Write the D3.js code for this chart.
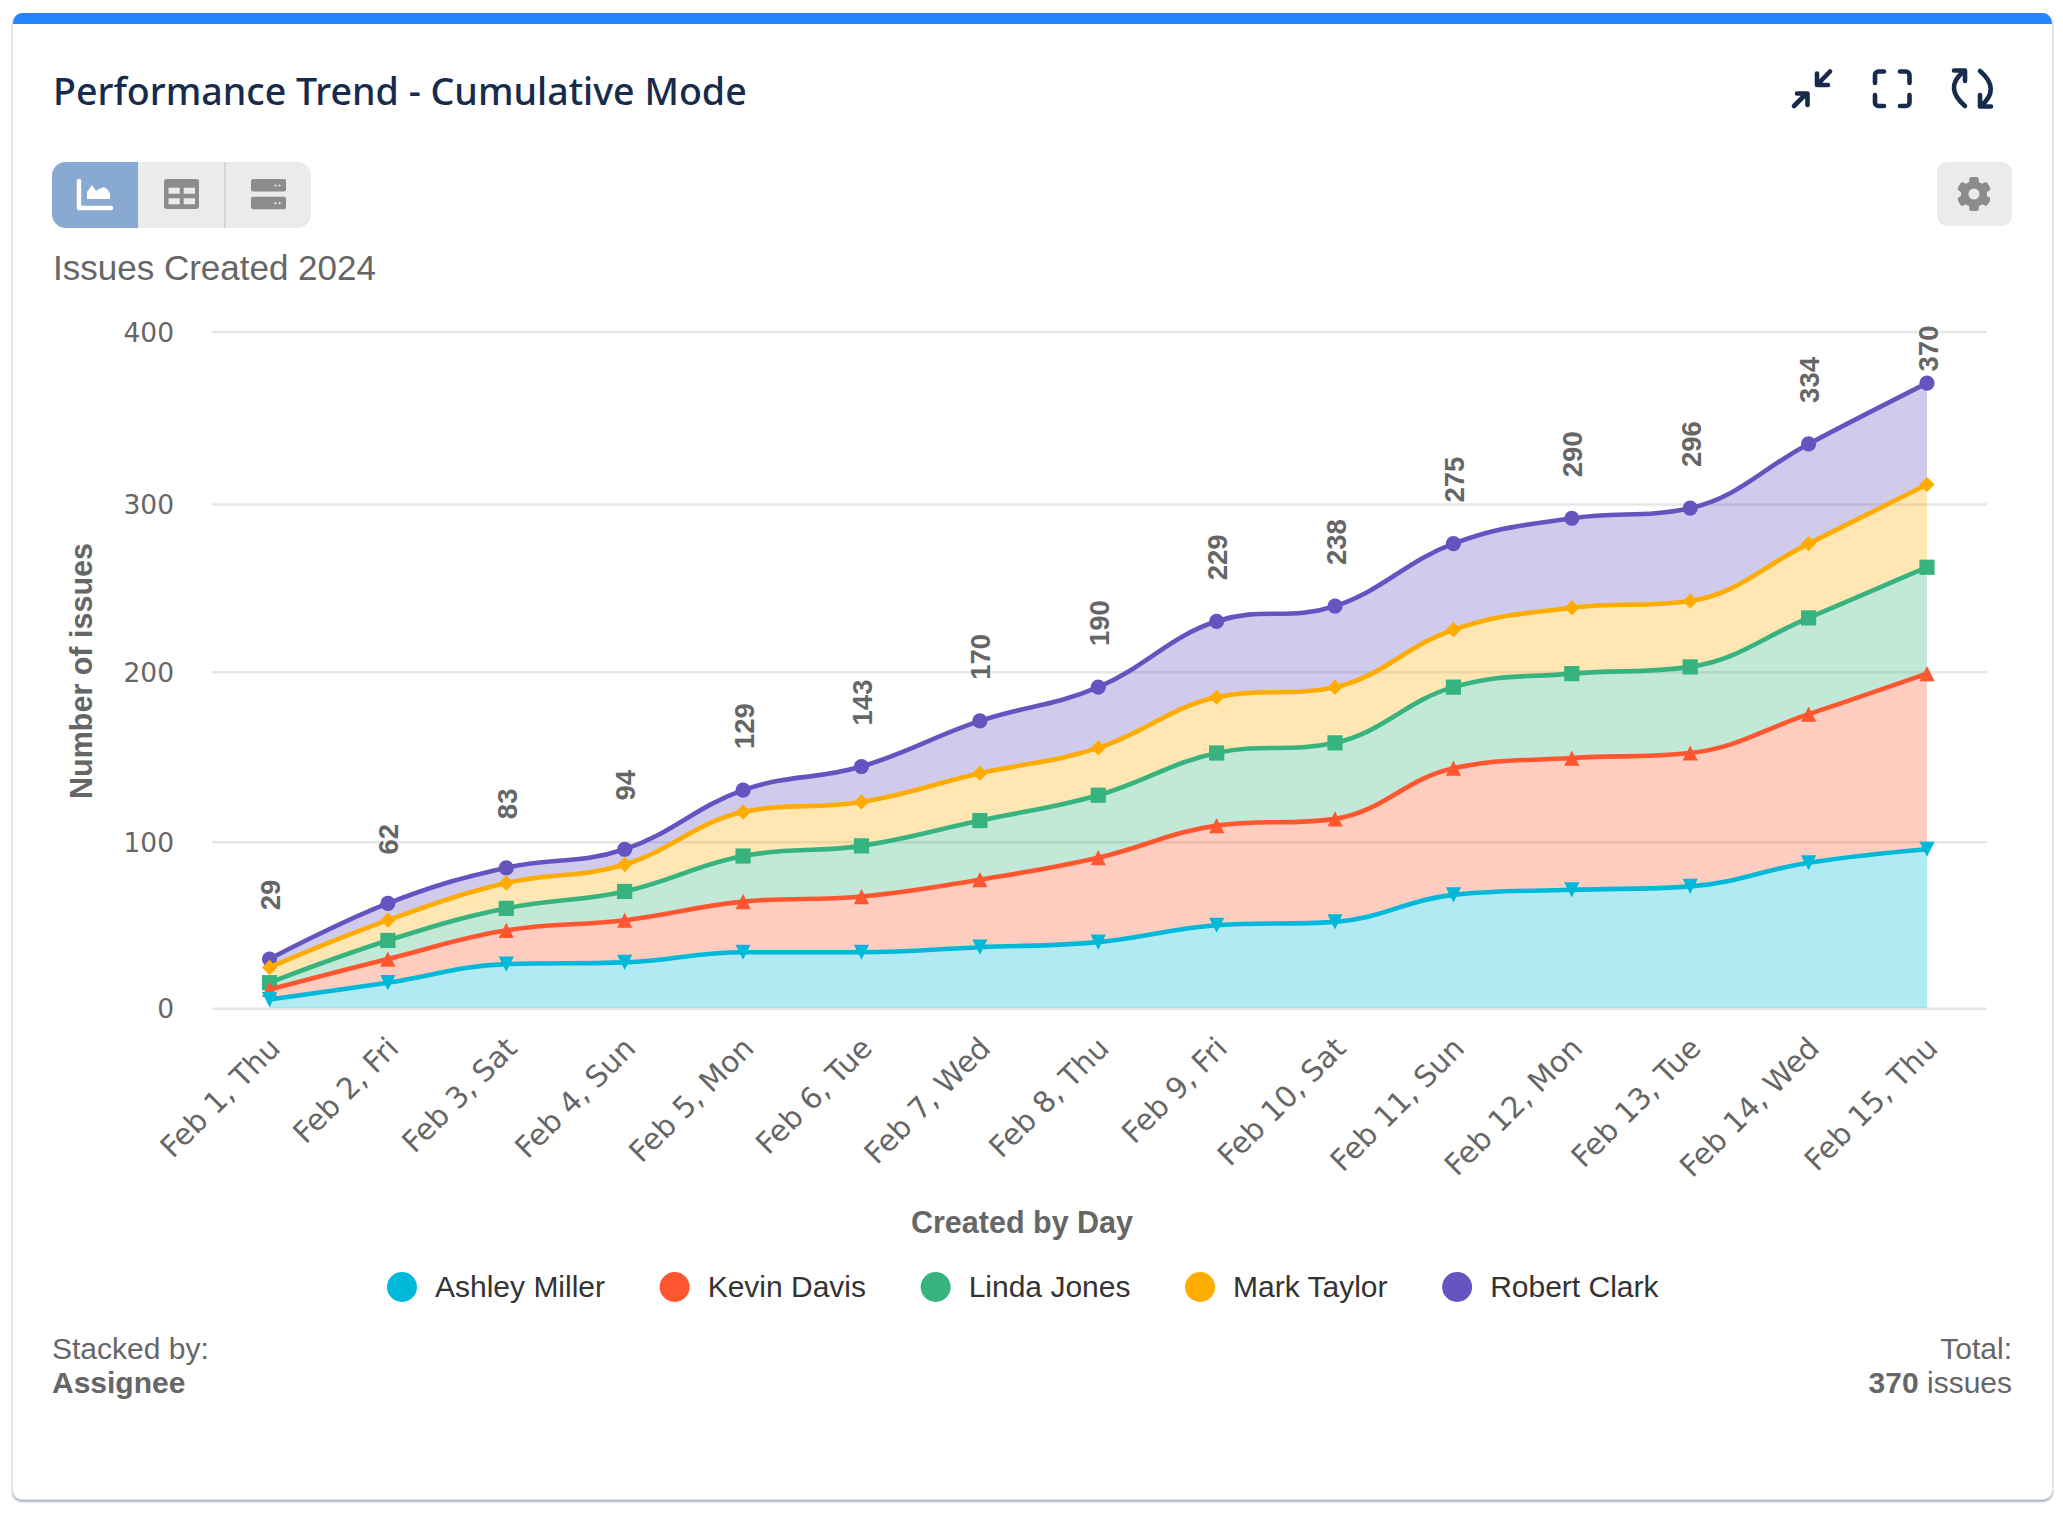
<!DOCTYPE html>
<html>
<head>
<meta charset="utf-8">
<script src="https://cdn.jsdelivr.net/npm/d3@7"></script>
<style>
  html, body { margin: 0; background: #fff; }
  #card { position: absolute; left: 12px; top: 13px; width: 2039px; height: 1486px; background: #fff;
    border: 1px solid #dfe1e6; border-top: 0; border-radius: 10px; overflow: hidden; box-sizing: content-box;
    box-shadow: 0 2px 2px rgba(100,115,150,.55); }
  #bar { height: 11px; background: #2684ff; }
  svg { position: absolute; left: 0; top: 0; font-family: "Liberation Sans", Arial, sans-serif; }
</style>
</head>
<body>
<div id="card"><div id="bar"></div></div>
<div id="container"></div>
<script>
/* DATA */
const days = ["Feb 1, Thu", "Feb 2, Fri", "Feb 3, Sat", "Feb 4, Sun", "Feb 5, Mon", "Feb 6, Tue", "Feb 7, Wed", "Feb 8, Thu",
  "Feb 9, Fri", "Feb 10, Sat", "Feb 11, Sun", "Feb 12, Mon", "Feb 13, Tue", "Feb 14, Wed", "Feb 15, Thu"];
const assignees = ["Ashley Miller", "Kevin Davis", "Linda Jones", "Mark Taylor", "Robert Clark"];
const ashleyMiller = [5, 15, 26, 27, 33, 33, 36, 39, 49, 51, 67, 70, 72, 86, 94];
const kevinDavis = [6, 14, 20, 25, 30, 33, 40, 50, 59, 61, 75, 78, 79, 88, 104];
const lindaJones = [4, 11, 13, 17, 27, 30, 35, 37, 43, 45, 48, 50, 51, 57, 63];
const markTaylor = [9, 12, 15, 16, 26, 26, 28, 28, 33, 33, 34, 39, 39, 44, 49];
const robertClark = [5, 10, 9, 9, 13, 21, 31, 36, 45, 48, 51, 53, 55, 59, 60];
const totals = [29, 62, 83, 94, 129, 143, 170, 190, 229, 238, 275, 290, 296, 334, 370];
const yTicks = [0, 100, 200, 300, 400];
const colors = ["#00b8d9", "#ff5630", "#36b37e", "#ffab00", "#6554c0"];
const markers = ["triangle-down", "triangle", "square", "diamond", "circle"];

/* CONSTANTS */
const width = 2063, height = 1514;
const plot = { left: 212, right: 1987, top: 332.5, bottom: 1008, firstX: 269.5, lastX: 1927 };
// gridlines in the reference are not evenly spaced, so the axis gets its own pixel rows
const gridRows = [1008.3, 841.7, 671.7, 504, 331.5];
const textColor = "#666666", navy = "#172b4d", iconGray = "#8c8c8c", btnGray = "#ebebeb";

const rows = days.map((day, i) => ({
  day,
  "Ashley Miller": ashleyMiller[i],
  "Kevin Davis": kevinDavis[i],
  "Linda Jones": lindaJones[i],
  "Mark Taylor": markTaylor[i],
  "Robert Clark": robertClark[i]
}));
const stacked = d3.stack().keys(assignees)(rows);

// spline with the same control points as the original chart (smoothing 1.5)
function SplineCurve(context) { this._context = context; }
SplineCurve.prototype = {
  areaStart() { this._line = 0; },
  areaEnd() { this._line = NaN; },
  lineStart() { this._pts = []; },
  point(x, y) { this._pts.push([+x, +y]); },
  lineEnd() {
    const p = this._pts, c = this._context;
    const conts = p.map((pt, i) => {
      const prev = p[i - 1], next = p[i + 1];
      if (!prev || !next) return { lx: pt[0], ly: pt[1], rx: pt[0], ry: pt[1] };
      const lx = (1.5 * pt[0] + prev[0]) / 2.5, rx = (1.5 * pt[0] + next[0]) / 2.5;
      let ly = (1.5 * pt[1] + prev[1]) / 2.5, ry = (1.5 * pt[1] + next[1]) / 2.5;
      const corr = ((ry - ly) * (rx - pt[0])) / (rx - lx) + pt[1] - ry;
      ly += corr; ry += corr;
      if (ly > prev[1] && ly > pt[1]) { ly = Math.max(prev[1], pt[1]); ry = 2 * pt[1] - ly; }
      else if (ly < prev[1] && ly < pt[1]) { ly = Math.min(prev[1], pt[1]); ry = 2 * pt[1] - ly; }
      if (ry > next[1] && ry > pt[1]) { ry = Math.max(next[1], pt[1]); ly = 2 * pt[1] - ry; }
      else if (ry < next[1] && ry < pt[1]) { ry = Math.min(next[1], pt[1]); ly = 2 * pt[1] - ry; }
      return { lx, ly, rx, ry };
    });
    p.forEach((pt, i) => {
      if (i === 0) { this._line ? c.lineTo(pt[0], pt[1]) : c.moveTo(pt[0], pt[1]); }
      else c.bezierCurveTo(conts[i - 1].rx, conts[i - 1].ry, conts[i].lx, conts[i].ly, pt[0], pt[1]);
    });
    if (this._line) c.closePath();
    this._line = 1 - this._line;
  }
};
const spline = context => new SplineCurve(context);

// marker shapes, all fit in a box of side 2r
function markerPath(type, r) {
  if (type === "circle") return d3.arc()({ innerRadius: 0, outerRadius: r, startAngle: 0, endAngle: 2 * Math.PI });
  if (type === "square") return `M${-r},${-r}H${r}V${r}H${-r}Z`;
  if (type === "diamond") return `M0,${-r}L${r},0L0,${r}L${-r},0Z`;
  if (type === "triangle") return `M0,${-r}L${r},${r}H${-r}Z`;
  return `M${-r},${-r}H${r}L0,${r}Z`;
}

/* SCALES AND AXES */
const xScale = d3.scalePoint().domain(days).range([plot.firstX, plot.lastX]);
const yScale = d3.scaleLinear().domain([0, 400]).range([plot.bottom, plot.top]);
const gridScale = d3.scaleLinear().domain(yTicks).range(gridRows);

const svg = d3.select("#container").append("svg").attr("width", width).attr("height", height);

const yAxisGroup = svg.append("g")
  .attr("transform", `translate(${plot.left},0)`)
  .call(d3.axisLeft(gridScale).tickValues(yTicks).tickSize(-(plot.right - plot.left)).tickPadding(38));
yAxisGroup.select(".domain").remove();
yAxisGroup.selectAll("line").attr("stroke", "#e6e6e6").attr("stroke-width", 2.6);
yAxisGroup.selectAll("text").attr("fill", textColor).attr("font-size", 26.5)
  .attr("font-family", "DejaVu Sans").attr("dy", "0.36em");

const xAxisGroup = svg.append("g")
  .attr("transform", `translate(0,${plot.bottom})`)
  .call(d3.axisBottom(xScale).tickSize(0));
xAxisGroup.select(".domain").remove();
xAxisGroup.selectAll("text")
  .attr("fill", textColor).attr("font-size", 29.5).attr("font-family", "DejaVu Sans")
  .attr("text-anchor", "end")
  .attr("dy", 0).attr("y", 0)
  .attr("transform", "translate(12,42) rotate(-45)");

/* SERIES, top of the stack first */
const areaGen = d3.area().curve(spline)
  .x(d => xScale(d.data.day))
  .y0(d => yScale(d[0]))
  .y1(d => yScale(d[1]));
const lineGen = d3.line().curve(spline)
  .x(d => xScale(d.data.day))
  .y(d => yScale(d[1]));

const seriesG = svg.selectAll("g.series")
  .data(stacked.slice().reverse())
  .join("g")
  .attr("class", "series");
seriesG.append("path")
  .attr("d", areaGen)
  .attr("fill", d => colors[d.index])
  .attr("fill-opacity", 0.3);
seriesG.append("path")
  .attr("d", lineGen)
  .attr("fill", "none")
  .attr("stroke", d => colors[d.index])
  .attr("stroke-width", 4.6);
seriesG.selectAll("path.marker")
  .data(s => s.map(d => ({ d, index: s.index })))
  .join("path")
  .attr("class", "marker")
  .attr("transform", p => `translate(${xScale(p.d.data.day)},${yScale(p.d[1])})`)
  .attr("d", p => markerPath(markers[p.index], 7.6))
  .attr("fill", p => colors[p.index]);

/* TOTAL LABELS */
svg.append("g").selectAll("text")
  .data(totals)
  .join("text")
  .attr("text-anchor", "middle")
  .attr("transform", (d, i) => `translate(${xScale(days[i]) + 10.5},${Math.max(yScale(d) - 64, 348.5)}) rotate(-90)`)
  .attr("font-size", 27.5)
  .attr("font-weight", "bold")
  .attr("fill", textColor)
  .attr("stroke", "#fff")
  .attr("stroke-width", 2)
  .attr("paint-order", "stroke")
  .text(d => d);

/* AXIS TITLES */
svg.append("text")
  .attr("transform", "translate(92,671) rotate(-90)")
  .attr("text-anchor", "middle")
  .attr("font-size", 30.5).attr("font-weight", "bold").attr("fill", textColor)
  .text("Number of issues");
svg.append("text")
  .attr("x", 1022).attr("y", 1233)
  .attr("text-anchor", "middle")
  .attr("font-size", 30.5).attr("font-weight", "bold").attr("fill", textColor)
  .text("Created by Day");

/* LEGEND */
let legendX = 387;
assignees.forEach((name, i) => {
  svg.append("circle").attr("cx", legendX + 15).attr("cy", 1287).attr("r", 15).attr("fill", colors[i]);
  const t = svg.append("text")
    .attr("x", legendX + 48).attr("y", 1297)
    .attr("font-size", 30).attr("fill", "#333333")
    .text(name);
  legendX += 48 + t.node().getComputedTextLength() + 54.6;
});

/* HEADER AND FOOTER TEXT */
svg.append("text").attr("x", 53).attr("y", 105)
  .attr("font-family", "Noto Sans").attr("font-weight", 500).attr("font-size", 37.6).attr("fill", navy)
  .text("Performance Trend - Cumulative Mode");
svg.append("text").attr("x", 53).attr("y", 280)
  .attr("font-size", 35).attr("fill", textColor)
  .text("Issues Created 2024");

svg.append("text").attr("x", 52).attr("y", 1359).attr("font-size", 30).attr("fill", textColor).text("Stacked by:");
svg.append("text").attr("x", 52).attr("y", 1393).attr("font-size", 30).attr("font-weight", "bold").attr("fill", textColor).text("Assignee");
svg.append("text").attr("x", 2012).attr("y", 1359).attr("text-anchor", "end").attr("font-size", 30).attr("fill", textColor).text("Total:");
const totalText = svg.append("text").attr("x", 2012).attr("y", 1393).attr("text-anchor", "end").attr("font-size", 30).attr("fill", textColor);
totalText.append("tspan").attr("font-weight", "bold").text(totals[totals.length - 1]);
totalText.append("tspan").text(" issues");

/* TOOLBAR ICONS */
const ui = svg.append("g");
ui.append("rect").attr("x", 52).attr("y", 162).attr("width", 259).attr("height", 66).attr("rx", 14).attr("fill", btnGray);
ui.append("path").attr("d", "M138,162H66a14,14 0 0 0 -14,14V214a14,14 0 0 0 14,14H138Z").attr("fill", "#88a9d1");
ui.append("rect").attr("x", 224).attr("y", 162).attr("width", 1.5).attr("height", 66).attr("fill", "#d0d0d0");
ui.append("path").attr("d", "M79,181V208H111").attr("fill", "none").attr("stroke", "#fff").attr("stroke-width", 4.5).attr("stroke-linecap", "round").attr("stroke-linejoin", "round");
ui.append("path").attr("d", "M87,199V192L92,185L96,191L99,189L104,187L108,190L110,194V199Z").attr("fill", "#fff");
ui.append("rect").attr("x", 164).attr("y", 179).attr("width", 35).attr("height", 30).attr("rx", 3).attr("fill", iconGray);
[[168.5, 187.7], [183.7, 187.7], [168.5, 198.3], [183.7, 198.3]].forEach(c => {
  ui.append("rect").attr("x", c[0]).attr("y", c[1]).attr("width", 11.3).attr("height", 6).attr("fill", btnGray);
});
[179, 196.7].forEach(y0 => {
  ui.append("rect").attr("x", 251).attr("y", y0).attr("width", 35).attr("height", 12.6).attr("rx", 2).attr("fill", iconGray);
  [275.5, 279.6].forEach(cx => ui.append("circle").attr("cx", cx).attr("cy", y0 + 6.5).attr("r", 1.1).attr("fill", btnGray));
});

// settings button
ui.append("rect").attr("x", 1937).attr("y", 162).attr("width", 75).attr("height", 64).attr("rx", 10).attr("fill", btnGray);
const gear = ui.append("g").attr("transform", "translate(1974,194)");
gear.append("circle").attr("r", 13).attr("fill", iconGray);
d3.range(6).forEach(k => gear.append("rect").attr("x", -4.5).attr("y", -17).attr("width", 9).attr("height", 34).attr("rx", 2.5)
  .attr("fill", iconGray).attr("transform", `rotate(${k * 60})`));
gear.append("circle").attr("r", 5.5).attr("fill", btnGray);

// header icons
const nav = svg.append("g").attr("fill", "none").attr("stroke", navy).attr("stroke-width", 4.6)
  .attr("stroke-linecap", "round").attr("stroke-linejoin", "round");
nav.append("path").attr("d", "M1794,106L1806,94M1797,93.5H1807.5V105");
nav.append("path").attr("d", "M1830,71.5L1818,84M1817,73.5V85H1828");
nav.append("path").attr("d", "M1875,83V75a3.5,3.5 0 0 1 3.5,-3.5H1884M1900,71.5H1906a3.5,3.5 0 0 1 3.5,3.5V83M1909.5,95V102.5a3.5,3.5 0 0 1 -3.5,3.5H1900M1884,106H1878.5a3.5,3.5 0 0 1 -3.5,-3.5V95");
nav.append("path").attr("d", "M1965,106Q1944,88 1963,72M1954,70.5H1965V81");
nav.append("path").attr("d", "M1980,71Q2001,89 1981,106M1980,95V106.5H1991");
</script>
</body>
</html>
